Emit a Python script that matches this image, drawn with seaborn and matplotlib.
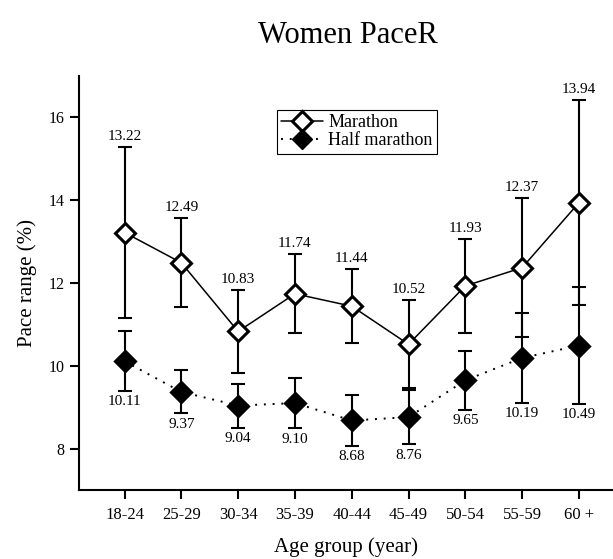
import numpy as np
import pandas as pd
import seaborn as sns
import matplotlib.pyplot as plt
from matplotlib.lines import Line2D

# datos
age_groups = ["18-24", "25-29", "30-34", "35-39", "40-44", "45-49", "50-54", "55-59", "60 +"]
marathon = [13.22, 12.49, 10.83, 11.74, 11.44, 10.52, 11.93, 12.37, 13.94]
marathon_err = [2.07, 1.08, 1.00, 0.95, 0.90, 1.06, 1.13, 1.68, 2.48]
half = [10.11, 9.37, 9.04, 9.10, 8.68, 8.76, 9.65, 10.19, 10.49]
half_err = [0.72, 0.52, 0.53, 0.61, 0.61, 0.66, 0.72, 1.08, 1.42]
y_ticks = [8, 10, 12, 14, 16]

sns.set_style("ticks")
plt.rcParams['font.family'] = ['Liberation Serif', 'DejaVu Serif']
for k in ['text.color', 'axes.labelcolor', 'xtick.color', 'ytick.color', 'axes.edgecolor']:
    plt.rcParams[k] = 'black'

df = pd.DataFrame({
    "age": age_groups * 2,
    "pace": marathon + half,
    "race": ["Marathon"] * len(age_groups) + ["Half marathon"] * len(age_groups),
})

fig = plt.figure(figsize=(6.13, 5.59), dpi=100)
ax = fig.add_axes([0.129, 0.1234, 0.871, 0.7406])

x = np.arange(len(age_groups))

# barras de error detras de los marcadores
ax.errorbar(x, marathon, yerr=marathon_err, fmt='none', ecolor='black',
            elinewidth=1.5, capsize=5, capthick=1.5, zorder=1)
ax.errorbar(x, half, yerr=half_err, fmt='none', ecolor='black',
            elinewidth=1.5, capsize=5, capthick=1.5, zorder=1)

sns.lineplot(data=df[df.race == "Marathon"], x="age", y="pace", ax=ax,
             color='black', linewidth=1.1, marker='D', markersize=10,
             markerfacecolor='white', markeredgecolor='black', markeredgewidth=2.2,
             zorder=3, sort=False)
sns.lineplot(data=df[df.race == "Half marathon"], x="age", y="pace", ax=ax,
             color='black', linewidth=1.4, dashes=False, marker='D', markersize=10,
             markerfacecolor='black', markeredgecolor='black', markeredgewidth=2.2,
             zorder=3, sort=False)
ax.lines[-1].set_dashes((1, 3.5))

# etiquetas de valores
for i in range(len(age_groups)):
    ax.annotate(f"{marathon[i]:.2f}", (x[i], marathon[i] + marathon_err[i]),
                xytext=(0, 3), textcoords='offset points', ha='center', va='bottom',
                fontsize=11)
    ax.annotate(f"{half[i]:.2f}", (x[i], half[i] - half_err[i]),
                xytext=(0, -3), textcoords='offset points', ha='center', va='top',
                fontsize=11)

ax.set_xlim(-0.8, 8.6)
ax.set_ylim(7.0, 17.0)
ax.set_xticks(x)
ax.set_xticklabels(age_groups)
ax.set_yticks(y_ticks)
ax.tick_params(axis='both', direction='out', length=6.5, width=1.5, pad=4)
ax.tick_params(axis='x', labelsize=12, pad=6)
ax.tick_params(axis='y', labelsize=11.5)
for s in ['left', 'bottom']:
    ax.spines[s].set_linewidth(1.5)
sns.despine(ax=ax)

ax.set_xlabel("Age group (year)", fontsize=15, labelpad=10)
ax.set_ylabel("Pace range (%)", fontsize=15, labelpad=8)
fig.text(0.568, 0.937, "Women PaceR", fontsize=22, ha='center', va='center')

handles = [
    Line2D([], [], color='black', linewidth=1.1, marker='D', markersize=10,
           markerfacecolor='white', markeredgecolor='black', markeredgewidth=2.2),
    Line2D([], [], color='black', linewidth=1.4, linestyle=(0, (1, 3.5)), marker='D',
           markersize=10, markerfacecolor='black', markeredgecolor='black'),
]
leg = ax.legend(handles, ["Marathon", "Half marathon"], loc='upper left',
                bbox_to_anchor=(0.37, 0.918), borderaxespad=0, fontsize=13,
                frameon=True, fancybox=False, edgecolor='black', framealpha=1,
                handlelength=2.3, handletextpad=0.3, labelspacing=0.05, borderpad=0.25)
leg.get_frame().set_linewidth(0.8)

fig.savefig("out.png", dpi=100)
